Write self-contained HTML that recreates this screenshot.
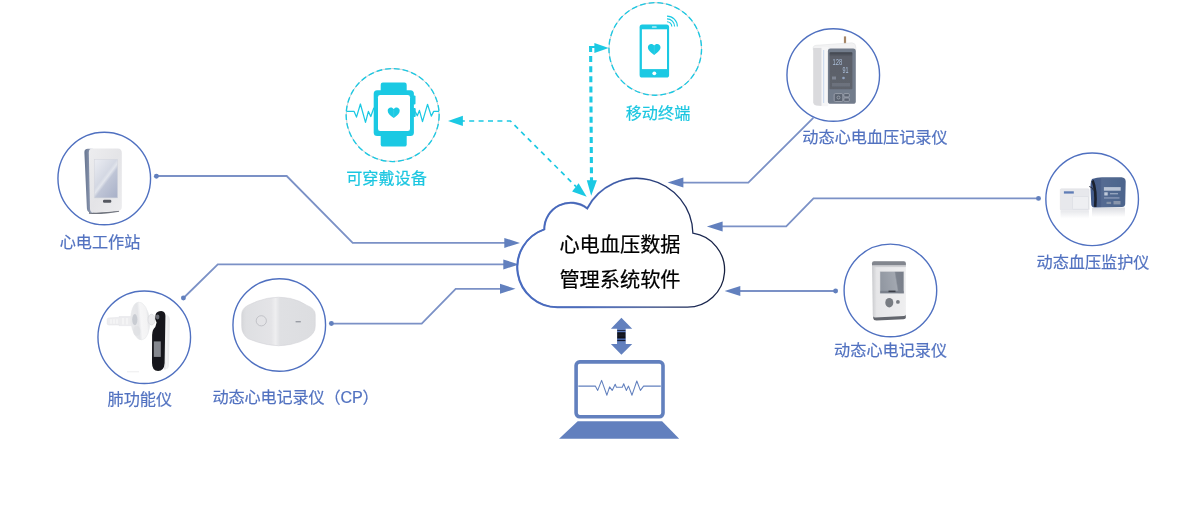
<!DOCTYPE html>
<html lang="zh-CN">
<head>
<meta charset="utf-8">
<title>心电血压数据管理系统软件</title>
<style>
html,body{margin:0;padding:0;background:#fff;}
body{width:1200px;height:506px;overflow:hidden;position:relative;font-family:"Liberation Sans","Noto Sans CJK SC",sans-serif;}
svg{position:absolute;left:0;top:0;display:block;will-change:transform;}
text{font-family:"Liberation Sans","Noto Sans CJK SC",sans-serif;}
.lbl{font-size:16.15px;font-weight:400;fill:#5272c0;stroke:#5272c0;stroke-width:0.2;text-anchor:middle;}
.lbl.cy{fill:#1bc6e0;stroke:#1bc6e0;}
.ttl{font-size:20.2px;font-weight:400;fill:#000;stroke:#000;stroke-width:0.22;text-anchor:middle;}
.ln{fill:none;stroke:#7b91c6;stroke-width:1.8;}
.ah{fill:#6280be;}
.dot{fill:#6280be;}
.ring{fill:#fff;stroke:#4f70c0;stroke-width:1.4;}
.dring{fill:none;stroke:#1bc9e3;stroke-width:1.35;stroke-dasharray:5.8 3;}
.dringbg{fill:#fff;stroke:#bfc1c5;stroke-width:0.8;}
.dl{fill:none;stroke:#1bc9e3;stroke-width:1.7;stroke-dasharray:5 4.4;}
.dl2{fill:none;stroke:#1bc9e3;stroke-width:3.1;stroke-dasharray:6 4.1;}
.cf{fill:#1bc9e3;}
.cs{fill:none;stroke:#1bc9e3;}
</style>
</head>
<body>
<svg width="1200" height="506" viewBox="0 0 1200 506">
<defs>
<linearGradient id="cloudStroke" gradientUnits="userSpaceOnUse" x1="517" y1="240" x2="725" y2="240">
<stop offset="0" stop-color="#4a6cc0"/><stop offset="0.4" stop-color="#3d5cab"/><stop offset="0.75" stop-color="#213266"/><stop offset="1" stop-color="#151f3f"/>
</linearGradient>
<linearGradient id="cloudStroke2" gradientUnits="userSpaceOnUse" x1="517" y1="240" x2="725" y2="240">
<stop offset="0" stop-color="#4a6cc0" stop-opacity="1"/><stop offset="0.3" stop-color="#4465b8" stop-opacity="0.8"/><stop offset="0.7" stop-color="#3a58a6" stop-opacity="0"/><stop offset="1" stop-color="#3a58a6" stop-opacity="0"/>
</linearGradient>
<linearGradient id="shaft" x1="0" y1="0" x2="0" y2="1">
<stop offset="0" stop-color="#6280be"/><stop offset="0.07" stop-color="#6280be"/><stop offset="0.1" stop-color="#222c4a"/><stop offset="0.13" stop-color="#222c4a"/><stop offset="0.16" stop-color="#5876ba"/><stop offset="0.21" stop-color="#5876ba"/><stop offset="0.25" stop-color="#0d0f18"/><stop offset="0.42" stop-color="#1b1d26"/><stop offset="0.6" stop-color="#0d0f18"/><stop offset="0.65" stop-color="#4562a4"/><stop offset="0.71" stop-color="#4562a4"/><stop offset="0.74" stop-color="#161c33"/><stop offset="0.79" stop-color="#161c33"/><stop offset="0.83" stop-color="#6280be"/><stop offset="1" stop-color="#6280be"/>
</linearGradient>
<filter id="soft" x="-10%" y="-10%" width="120%" height="120%"><feGaussianBlur stdDeviation="0.45"/></filter>
</defs>
<!-- connector lines -->
<g id="lines">
<path class="ln" d="M156.5 176H286.7L352.7 242.9H506"/>
<path class="ah" d="M504.3 237.9L520 242.9L504.3 247.9Z"/>
<circle class="dot" cx="156.4" cy="176.3" r="2.45"/>
<path class="ln" d="M183.5 298L217.8 264.4H506"/>
<path class="ah" d="M503.3 259.4L519 264.4L503.3 269.4Z"/>
<circle class="dot" cx="183.4" cy="298" r="2.45"/>
<path class="ln" d="M331 323.6H421.7L455.7 288.8H502"/>
<path class="ah" d="M500 283.8L515.5 288.8L500 293.8Z"/>
<circle class="dot" cx="331.4" cy="323.5" r="2.45"/>
<path class="ln" d="M813.3 117.9L748.3 182.6H682"/>
<path class="ah" d="M683.4 177.6L667.6 182.6L683.4 187.6Z"/>
<path class="ln" d="M1038.8 198.4H813.5L786.2 226.4H720"/>
<path class="ah" d="M722.6 221.4L706.9 226.4L722.6 231.4Z"/>
<circle class="dot" cx="1038.5" cy="198.4" r="2.45"/>
<path class="ln" d="M835.1 291H738"/>
<path class="ah" d="M740.3 286L724.6 291L740.3 296Z"/>
<circle class="dot" cx="835.6" cy="291" r="2.45"/>
</g>
<!-- dashed cyan -->
<g id="dashes">
<path class="dl" d="M459.8 121H510.4L576 186.6"/>
<path class="cf" d="M462.9 115.8L448 121L462.9 126.1Z"/>
<path class="cf" d="M572.1 191.5L586.7 196.8L578.6 183.2Z"/>
<path class="dl2" d="M590.6 46L591.5 181"/>
<path class="cs" stroke-width="2" d="M589.1 47H595"/>
<path class="cf" d="M594.4 43L608.7 48L594.4 53.1Z"/>
<path class="cf" d="M586.8 180.2L591.2 195.7L596.9 180.2Z"/>
</g>
<!-- cloud -->
<g id="cloud">
<path d="M557.30 307.20A40 40 0 0 1 544.30 229.37A26.5 26.5 0 0 1 587.24 208.42A56 56 0 0 1 692.89 233.21A37.2 37.2 0 0 1 687.40 307.20Z" fill="#fff" stroke="url(#cloudStroke)" stroke-width="1.3" stroke-linejoin="miter"/>
<path d="M557.30 307.20A40 40 0 0 1 544.30 229.37A26.5 26.5 0 0 1 587.24 208.42A56 56 0 0 1 692.89 233.21A37.2 37.2 0 0 1 687.40 307.20Z" fill="none" stroke="url(#cloudStroke2)" stroke-width="2.1" stroke-linejoin="miter"/>
<text class="ttl" x="620" y="252.4">心电血压数据</text>
<text class="ttl" x="620" y="286.7">管理系统软件</text>
</g>
<!-- double arrow + laptop -->
<g id="laptop">
<path class="ah" d="M621.4 317.7L632.2 328.8H625.5V344H632.2L621.4 354.8L610.9 344H617.2V328.8H610.9Z"/>
<rect x="617.2" y="328.8" width="8.3" height="15.4" fill="url(#shaft)"/>
<rect x="576.1" y="361.9" width="86.9" height="54.8" rx="3.6" ry="3.6" fill="#fff" stroke="#6280be" stroke-width="3.6"/>
<path d="M578.3 386.1H595.3L597.7 390.4L601.6 380.4L606.9 395.2L609.6 386.9L612.2 390.4L615.2 384.2L616.4 387.3H622.3L623.7 383.8L626.3 390.4L628.5 386.1L632 395.2L636.8 381L640.4 390.4L643.6 386.1H660.8" fill="none" stroke="#6280be" stroke-width="1.05" stroke-linejoin="round"/>
<path class="ah" d="M577.7 421.2H662.1L679.2 438.7H559.1Z"/>
</g>
<!-- circles -->
<g id="rings">
<circle class="ring" cx="104.25" cy="178.5" r="46.3"/>
<circle class="ring" cx="144.25" cy="337.25" r="46.3"/>
<circle class="ring" cx="279.25" cy="325" r="46.3"/>
<circle class="ring" cx="833.25" cy="75" r="46.3"/>
<circle class="ring" cx="1092.15" cy="199.35" r="46.3"/>
<circle class="ring" cx="890.4" cy="290.45" r="46.3"/>
<circle class="dringbg" cx="392.65" cy="115.05" r="46.5"/>
<circle class="dring" cx="392.65" cy="115.05" r="46.5"/>
<circle class="dringbg" cx="655.25" cy="48.95" r="46.3"/>
<circle class="dring" cx="655.25" cy="48.95" r="46.3"/>
</g>
<!-- watch icon -->
<g id="watch">
<g transform="translate(0 0.4)">
<rect class="cf" x="380.7" y="82.2" width="26" height="64" rx="2.2"/>
<rect class="cf" x="373.7" y="89.8" width="40.2" height="45.7" rx="3.5"/>
<rect class="cf" x="413" y="95.2" width="2.5" height="8.8" rx="1"/>
<rect class="cf" x="413" y="107.5" width="2.7" height="9" rx="1"/>
<rect x="378" y="94.6" width="32" height="35.9" rx="2.2" fill="#fff"/>
<path class="cf" d="M393.7 117.6C389.5 114.6 387.7 112.6 387.7 110.3C387.7 108.5 389.1 107.2 390.8 107.2C392 107.2 393.1 107.8 393.7 108.8C394.3 107.8 395.4 107.2 396.6 107.2C398.3 107.2 399.7 108.5 399.7 110.3C399.7 112.6 397.9 114.6 393.7 117.6Z"/>
<path d="M393.75 109.5V117.6" stroke="#5fd8ec" stroke-width="0.4" fill="none"/>
</g>
<path class="cs" stroke-width="1.25" stroke-linejoin="round" d="M346.6 111.4H354.1L356.5 117.1L360.4 104L365.5 122.3L368.4 111.4L370.8 116.5L373.9 107.8"/>
<path class="cs" stroke-width="1.25" stroke-linejoin="round" d="M415.2 111.6L417.3 115.8L419.4 110.4L422.5 121.6L427.5 104.3L431.3 116.1L433.7 111.4H439"/>
</g>
<!-- phone icon -->
<g id="phone">
<rect class="cf" x="639.6" y="24.6" width="29.5" height="53" rx="2.6"/>
<rect x="641.9" y="29.3" width="25.1" height="39.8" fill="#fff"/>
<rect x="651.9" y="26.4" width="4.8" height="1.2" rx="0.5" fill="#fff"/>
<circle cx="654.3" cy="73.3" r="1.9" fill="#fff"/>
<path class="cf" transform="translate(0.3 0.5)" d="M653.9 54.4C649.5 51.2 647.6 49.1 647.6 46.7C647.6 44.8 649.1 43.4 650.9 43.4C652.1 43.4 653.3 44.1 653.9 45.1C654.5 44.1 655.7 43.4 656.9 43.4C658.7 43.4 660.2 44.8 660.2 46.7C660.2 49.1 658.3 51.2 653.9 54.4Z"/>
<path d="M654.25 46V54.5" stroke="#5fd8ec" stroke-width="0.4" fill="none"/>
<path class="cs" stroke-width="1.15" d="M667 21.7A4.8 4.8 0 0 1 671.8 26.5M667 18.9A7.6 7.6 0 0 1 674.6 26.5M667 16.1A10.4 10.4 0 0 1 677.4 26.5"/>
</g>
<!-- device photos -->
<g id="dev-ws" filter="url(#soft)">
<linearGradient id="wsSide" x1="0" y1="0" x2="1" y2="0"><stop offset="0" stop-color="#66748f"/><stop offset="0.6" stop-color="#8692ab"/><stop offset="1" stop-color="#c5cad6"/></linearGradient>
<linearGradient id="wsBody" x1="0" y1="0" x2="1" y2="1"><stop offset="0" stop-color="#ededef"/><stop offset="0.5" stop-color="#e4e4e7"/><stop offset="1" stop-color="#ececee"/></linearGradient>
<linearGradient id="wsScr" x1="0.1" y1="0" x2="0.9" y2="1"><stop offset="0" stop-color="#e9ebf1"/><stop offset="0.42" stop-color="#d4d8e3"/><stop offset="0.5" stop-color="#e2e5ec"/><stop offset="0.58" stop-color="#bfc5d6"/><stop offset="1" stop-color="#aab2c9"/></linearGradient>
<path d="M89 212.9Q100 214.2 119 211" stroke="#4d525e" stroke-width="1.6" fill="none" opacity="0.8"/>
<path d="M84.4 152.5Q84.2 148.9 88 148.8H93V212.9H92Q87.3 212.8 86.9 208.5Z" fill="url(#wsSide)"/>
<path d="M88.8 152.4Q88.8 148.6 92.5 148.6H117.8Q121.8 148.8 121.8 152.8V207Q121.8 210.6 118 211L94 212.6Q90.2 212.6 90 209Z" fill="url(#wsBody)"/>
<rect x="94.3" y="159.3" width="23.3" height="38.6" fill="url(#wsScr)" stroke="#d2d4db" stroke-width="0.5"/>
<rect x="103" y="199.8" width="8.3" height="2.9" rx="1.2" fill="#555861"/>
</g>
<g id="dev-lung" filter="url(#soft)">
<linearGradient id="lgSide" x1="0" y1="0" x2="1" y2="0"><stop offset="0" stop-color="#dcdde0"/><stop offset="0.4" stop-color="#f4f4f5"/><stop offset="1" stop-color="#e6e7e9"/></linearGradient>
<linearGradient id="lgFl" x1="0" y1="0" x2="1" y2="0"><stop offset="0" stop-color="#e9eaec"/><stop offset="0.4" stop-color="#e4e5e8"/><stop offset="0.55" stop-color="#f6f6f7"/><stop offset="0.85" stop-color="#f3f3f4"/><stop offset="1" stop-color="#e0e1e4"/></linearGradient>
<path d="M164 314.5Q169.4 314 169.8 320L168.8 366Q168.2 370 164 369.5Z" fill="url(#lgSide)"/>
<path d="M107.2 319.6Q107.2 318 109 317.9L119 317.4V316.6H131.6V325.6H119V324.9L109 325Q107.2 324.9 107.2 323.4Z" fill="#ededef" stroke="#e0e1e4" stroke-width="0.5"/>
<path d="M111 319.2V323.8M114 319.2V323.8M117 319.2V323.8M123 318V324.6M127 318V324.6" stroke="#f8f8f9" stroke-width="1.2" fill="none"/>
<ellipse cx="140.2" cy="321" rx="9.3" ry="19" fill="url(#lgFl)" stroke="#e6e7e9" stroke-width="0.5" transform="rotate(-5 140.2 321)"/>
<ellipse cx="134.8" cy="319.6" rx="2.6" ry="5.6" fill="#c3c7ce" opacity="0.85"/>
<ellipse cx="136.8" cy="331" rx="3.6" ry="5" fill="#dedfe2" opacity="0.7"/>
<ellipse cx="151.6" cy="319.6" rx="3.6" ry="5.4" fill="#ececee" stroke="#d3d5d9" stroke-width="0.6"/>
<path d="M155.6 314.5Q156.6 311 161.3 311Q165.5 311.3 165.4 316L164.6 363Q164.1 371 158.1 371Q152 370.8 152 363L152.1 335Q152.3 329.5 155.3 327L156.6 322.5Q154.4 318.5 155.6 314.5Z" fill="#17181c"/>
<rect x="153.8" y="341.4" width="7" height="15.5" fill="#85888f"/>
<ellipse cx="157.6" cy="317" rx="1.8" ry="2.4" fill="#6b6d74"/>
<path d="M127 371.8H139" stroke="#ededee" stroke-width="1" fill="none"/>
</g>
<g id="dev-cp" filter="url(#soft)">
<linearGradient id="cpBody" x1="0" y1="0" x2="1" y2="0"><stop offset="0" stop-color="#d6d7da"/><stop offset="0.06" stop-color="#dedfe2"/><stop offset="0.4" stop-color="#e4e4e7"/><stop offset="0.46" stop-color="#eeeef0"/><stop offset="0.52" stop-color="#dfe0e3"/><stop offset="1" stop-color="#dcdde0"/></linearGradient>
<path d="M241.7 314.5Q241.7 308.8 247.8 305.4Q257 300.6 267.1 298.4Q278.6 296 290.2 298.4Q300 300.6 306.9 305.4Q315.2 308.8 315.2 314.5V326.5Q315.2 333.5 306.9 338.6Q300 342.4 290.2 344.5Q278.6 347 267.1 344.5Q257 342.4 247.8 338.6Q241.7 333.5 241.7 326.5Z" fill="url(#cpBody)" stroke="#d3d4d8" stroke-width="0.6"/>
<circle cx="261.3" cy="320.8" r="5.1" fill="#e3e3e6" stroke="#b3b5ba" stroke-width="0.7"/>
<rect x="295.6" y="321" width="5.2" height="1.4" fill="#9a9da5"/>
</g>
<g id="dev-bp" filter="url(#soft)">
<linearGradient id="bpScr" x1="0" y1="0" x2="0" y2="1"><stop offset="0" stop-color="#3f434b"/><stop offset="0.12" stop-color="#5b606a"/><stop offset="1" stop-color="#5e636c"/></linearGradient>
<path d="M845 36.4V44" stroke="#a58565" stroke-width="2.2" fill="none"/>
<path d="M813.2 47.3Q813.4 45.6 816 45.3L852 42.8Q855.8 43 855.8 47V50H813.2Z" fill="#f2f2f3" stroke="#dfe0e3" stroke-width="0.5"/>
<path d="M813.2 48H821.8V106L816 105.4Q813.4 105 813.2 102.5Z" fill="#dadadd"/>
<rect x="821.6" y="47" width="6.5" height="59.2" fill="#f6f6f7"/>
<path d="M823.7 50V103" stroke="#a6c1e6" stroke-width="0.6" fill="none"/>
<rect x="827.9" y="48.6" width="27.9" height="55.2" rx="2.6" fill="#727b8b"/>
<rect x="829.5" y="52.2" width="22.9" height="37" rx="0.8" fill="url(#bpScr)"/>
<rect x="834.2" y="93.6" width="8.6" height="7.9" rx="1.2" fill="#5a6270" stroke="#b9bec7" stroke-width="0.6"/>
<rect x="843.9" y="93.6" width="5.4" height="3.3" rx="0.8" fill="#5a6270" stroke="#b9bec7" stroke-width="0.6"/>
<rect x="843.9" y="98" width="5.4" height="3.3" rx="0.8" fill="#5a6270" stroke="#b9bec7" stroke-width="0.6"/>
<circle cx="838.5" cy="97.5" r="1.5" fill="none" stroke="#c5c9d0" stroke-width="0.5"/>
<text x="832.4" y="65.4" font-size="9.4" fill="#a9bcd6" textLength="9.8" lengthAdjust="spacingAndGlyphs">128</text>
<text x="842.6" y="72.8" font-size="9.4" fill="#a9bcd6" textLength="6" lengthAdjust="spacingAndGlyphs">91</text>
<circle cx="843.5" cy="78" r="1.3" fill="#9fb4d4" opacity="0.8"/>
<rect x="832" y="76.5" width="4" height="3" fill="#8e96a4" opacity="0.7"/>
<rect x="832" y="83" width="18" height="3.5" fill="#737985" opacity="0.7"/>
</g>
<g id="dev-abp" filter="url(#soft)">
<linearGradient id="refl" x1="0" y1="0" x2="0" y2="1"><stop offset="0" stop-color="#d3d5db"/><stop offset="1" stop-color="#ffffff"/></linearGradient>
<linearGradient id="cuff" x1="0" y1="0" x2="1" y2="0"><stop offset="0" stop-color="#41598a"/><stop offset="0.28" stop-color="#4a6089"/><stop offset="0.32" stop-color="#546b92"/><stop offset="1" stop-color="#4d648c"/></linearGradient>
<rect x="1060.5" y="210.6" width="28.5" height="8" fill="url(#refl)" opacity="0.55"/>
<rect x="1092" y="207.6" width="33" height="9.5" fill="url(#refl)" opacity="0.8"/>
<rect x="1060.3" y="188.8" width="28.9" height="21.4" rx="1" fill="#e7e8ec" stroke="#dcdde2" stroke-width="0.5"/>
<rect x="1072.5" y="196.5" width="16" height="12.8" rx="0.6" fill="#eeeff2" stroke="#d6d8de" stroke-width="0.5"/>
<rect x="1063.9" y="191.3" width="9.9" height="2.3" fill="#5f7db6"/>
<path d="M1092 179Q1097 177.6 1102 177.3H1121.5Q1125.7 177.6 1125.7 181.5L1125.2 204.3Q1125 206.8 1122 207L1094.5 207.4Q1091.6 207.3 1091.3 204.8L1090.6 190Q1090.2 182.5 1092 179Z" fill="url(#cuff)"/>
<path d="M1092.6 180.5Q1096.5 190 1095.2 206.8" stroke="#161a24" stroke-width="2.6" fill="none" opacity="0.9"/>
<path d="M1089.3 186.5Q1092.5 187 1093.6 190.5" stroke="#2a3040" stroke-width="1" fill="none"/>
<rect x="1103.9" y="187.1" width="16.8" height="3.6" fill="#dfe4ee" opacity="0.75"/>
<rect x="1104.3" y="192.3" width="3.4" height="3.2" fill="#d6dce8" opacity="0.85"/>
<rect x="1110" y="193.2" width="8" height="1.1" fill="#b4bfd4" opacity="0.85"/>
<rect x="1104" y="197.4" width="15.5" height="1.1" fill="#a3b0ca" opacity="0.85"/>
<rect x="1106.5" y="201.8" width="4.6" height="2.2" fill="#8b97ab" opacity="0.9"/>
<rect x="1113.5" y="201" width="7" height="3.4" fill="#949fb2" opacity="0.85"/>
</g>
<g id="dev-ecg" filter="url(#soft)">
<linearGradient id="ecgScr" x1="0" y1="0.15" x2="1" y2="0"><stop offset="0" stop-color="#9298a2"/><stop offset="0.6" stop-color="#a2a7b0"/><stop offset="0.66" stop-color="#7d838e"/><stop offset="1" stop-color="#787e89"/></linearGradient>
<linearGradient id="ecgBody" x1="0" y1="0" x2="1" y2="0"><stop offset="0" stop-color="#c9cacd"/><stop offset="0.14" stop-color="#e6e6e8"/><stop offset="1" stop-color="#efeff0"/></linearGradient>
<path d="M873.2 316L905.8 314.8V317.5Q905.8 319 903.5 319.3L876.5 320.5Q873.5 320.5 873.2 318Z" fill="#63666d"/>
<path d="M872 263.5Q872 261.3 874.2 261.3H903.8Q905.9 261.3 905.9 263.5V314Q905.9 315.8 904 316L875 317.4Q873 317.4 872.8 315.4Z" fill="url(#ecgBody)"/>
<path d="M872 263.5Q872 261.3 874.2 261.3H903.8Q905.9 261.3 905.9 263.5V265.5H872Z" fill="#82868e"/>
<rect x="872.1" y="265.5" width="33.8" height="1.6" fill="#cfd0d3"/>
<rect x="880" y="271.5" width="23.9" height="21.9" fill="url(#ecgScr)" stroke="#d5d6da" stroke-width="0.5"/>
<rect x="880.3" y="290.8" width="23.3" height="2.4" fill="#7a808b"/>
<rect x="888.5" y="290.6" width="7" height="1.5" fill="#3d4048"/>
<ellipse cx="889.3" cy="302.7" rx="4" ry="4.8" fill="#787b82"/>
<circle cx="897.9" cy="301.9" r="1.9" fill="#787b82"/>
</g>
<!-- labels -->
<g id="labels">
<text class="lbl" x="100" y="247.5">心电工作站</text>
<text class="lbl" x="139.8" y="405">肺功能仪</text>
<text class="lbl" x="295.6" y="402.5" style="letter-spacing:-0.15px">动态心电记录仪（CP）</text>
<text class="lbl cy" x="386.5" y="183.7">可穿戴设备</text>
<text class="lbl cy" x="658" y="119">移动终端</text>
<text class="lbl" x="875" y="143">动态心电血压记录仪</text>
<text class="lbl" x="1093" y="267.5">动态血压监护仪</text>
<text class="lbl" x="890.6" y="356.2">动态心电记录仪</text>
</g>
</svg>
</body>
</html>
